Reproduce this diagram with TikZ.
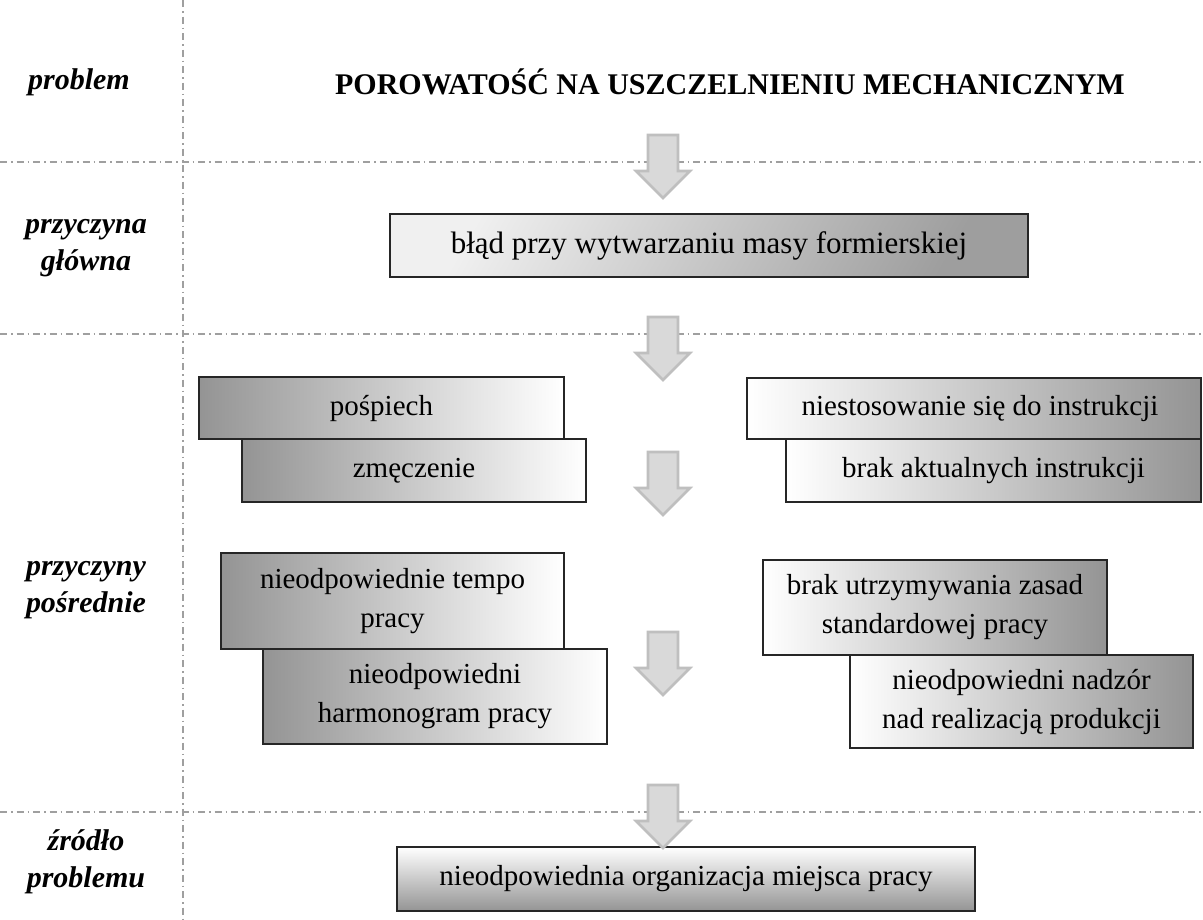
\documentclass[tikz,border=0pt]{standalone}
\usepackage{fontspec}
\setmainfont{Liberation Serif}
\begin{document}
\begin{tikzpicture}[x=1pt,y=-1pt,
  sepline/.style={draw=gray!75, line width=1.4pt, dash pattern=on 7pt off 4pt on 1.5pt off 4pt},
  lbl/.style={font=\fontsize{30}{37}\selectfont\bfseries\itshape, align=center},
  boxbase/.style={draw=black!85, line width=1.2pt, inner sep=0pt, align=center,
     font=\fontsize{29}{39}\selectfont},
  darkleft/.style={boxbase, left color=black!42, right color=white},
  darkright/.style={boxbase, left color=white, right color=black!42},
  garrow/.style={fill=black!15, draw=black!25, line width=2.6pt, line join=miter}
]
\useasboundingbox (0,0) rectangle (1203,919);
% separators
\draw[sepline] (183,0) -- (183,919);
\draw[sepline] (0,162) -- (1203,162);
\draw[sepline] (0,334) -- (1203,334);
\draw[sepline] (0,812) -- (1203,812);
% labels
\node[lbl] (l1) at (79,82) {problem};
\node[lbl] (l2) at (86,248) {przyczyna\\główna};
\node[lbl] (l3) at (86,590) {przyczyny\\pośrednie};
\node[lbl] (l4) at (86,862) {źródło\\problemu};
% title
\node[font=\fontsize{30}{36}\selectfont\bfseries] (title) at (730,82) {POROWATOŚĆ NA USZCZELNIENIU MECHANICZNYM};
% boxes
\newcommand{\boxat}[6]{%
  \node[#1, minimum width=#4-#2, minimum height=#5-#3] (#6) at ({(#2+#4)/2},{(#3+#5)/2})}
\boxat{boxbase, font=\fontsize{31}{37}\selectfont, shading=axis, top color=black!6, bottom color=black!38, shading angle=60}{390}{214}{1028}{277}{main} {błąd przy wytwarzaniu masy formierskiej};
\boxat{darkleft}{199}{377}{564}{439}{pos} {pośpiech};
\boxat{darkleft}{242}{439}{586}{502}{zme} {zmęczenie};
\boxat{darkright}{747}{378}{1201}{439}{nie} {\hspace*{12pt}niestosowanie się do instrukcji};
\boxat{darkright}{786}{439}{1201}{502}{bak} {brak aktualnych instrukcji};
\boxat{darkleft}{221}{553}{564}{649}{tem} {nieodpowiednie tempo\\pracy};
\boxat{darkleft}{263}{649}{607}{744}{har} {nieodpowiedni\\harmonogram pracy};
\boxat{darkright}{763}{560}{1107}{655}{but} {brak utrzymywania zasad\\standardowej pracy};
\boxat{darkright}{850}{655}{1193}{748}{nad} {nieodpowiedni nadzór\\nad realizacją produkcji};
\boxat{boxbase, top color=white, bottom color=black!42}{397}{847}{975}{911}{org} {nieodpowiednia organizacja miejsca pracy};
% block arrows
\newcommand{\blockarrow}[2]{%
  \draw[garrow] (#1-15,#2) -- (#1+15,#2) -- (#1+15,#2+36) -- (#1+27,#2+36)
    -- (#1,#2+63) -- (#1-27,#2+36) -- (#1-15,#2+36) -- cycle;}
\blockarrow{663}{135}
\blockarrow{663}{317}
\blockarrow{663}{452}
\blockarrow{663}{632}
\blockarrow{663}{785}
\end{tikzpicture}
\end{document}
